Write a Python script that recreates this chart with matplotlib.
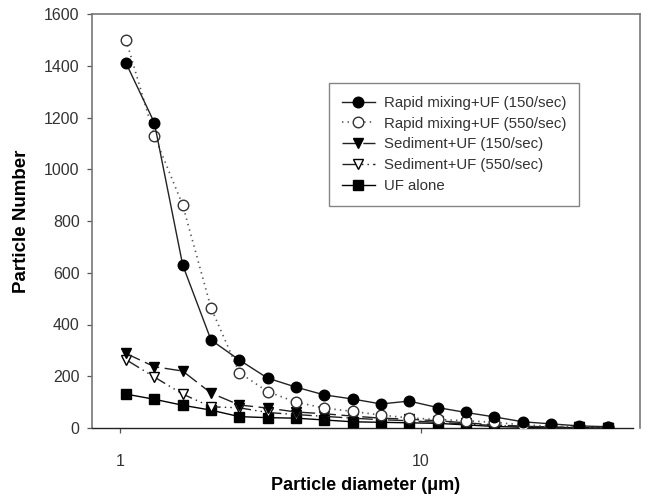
import numpy as np
import matplotlib
matplotlib.use("Agg")
import matplotlib.pyplot as plt

plt.rcParams['font.family'] = ['Liberation Sans', 'DejaVu Sans']
plt.rcParams['lines.scale_dashes'] = False

# particle size channels (um)
diameter = [1.047, 1.30, 1.615, 2.006, 2.49, 3.09, 3.84, 4.77, 5.93, 7.36,
            9.14, 11.35, 14.1, 17.5, 21.8, 27.0, 33.6, 41.7]

rapid_150 = [1410, 1180, 630, 340, 263, 193, 158, 128, 112, 93,
             104, 79, 60, 43, 24, 16, 8, 5]
rapid_550 = [1500, 1130, 862, 464, 214, 141, 100, 77, 64, 50,
             39, 33, 28, 22, 12, 7, 4, 3]
sed_150 = [288, 237, 220, 135, 89, 77, 62, 55, 46, 38,
           34, 28, 20, 12, 7, 4, 2, 1]
sed_550 = [264, 197, 131, 82, 78, 60, 52, 45, 38, 32,
           28, 22, 15, 10, 5, 3, 2, 1]
uf_alone = [131, 111, 88, 69, 44, 40, 38, 31, 24, 22,
            20, 18, 12, 6, 3, 2, 1, 1]

labels = ["Rapid mixing+UF (150/sec)", "Rapid mixing+UF (550/sec)",
          "Sediment+UF (150/sec)", "Sediment+UF (550/sec)", "UF alone"]
y_ticks = [0, 200, 400, 600, 800, 1000, 1200, 1400, 1600]
x_ticks = [1, 10]
x_tick_labels = ["1", "10"]

fig = plt.figure(figsize=(6.49, 5.01), dpi=100)
ax = fig.add_axes([92/649, 1-428/501, (640-92)/649, (428-14)/501])

ms = 7.6
lw = 1.0
ax.plot(diameter, uf_alone, color='black', lw=lw, marker='s', ms=6.8,
        mfc='black', mec='black', label=labels[4], zorder=3)
ax.plot(diameter, sed_550, color='#222222', lw=lw, ls=(0, (11, 3, 1, 3, 1, 3)),
        marker='v', ms=ms, mfc='white', mec='black', mew=1.0, label=labels[3], zorder=4)
ax.plot(diameter, sed_150, color='#222222', lw=lw, ls=(0, (11, 4)),
        marker='v', ms=ms, mfc='black', mec='black', label=labels[2], zorder=5)
ax.plot(diameter, rapid_550, color='#555555', lw=1.2, ls=(0, (1, 3)),
        marker='o', ms=ms, mfc='white', mec='#333333', mew=1.0, label=labels[1], zorder=6)
ax.plot(diameter, rapid_150, color='#222222', lw=lw,
        marker='o', ms=ms, mfc='black', mec='black', label=labels[0], zorder=7)

ax.set_xscale('log')
ax.set_xlim(0.807, 53.4)
ax.set_ylim(0, 1600)
ax.set_yticks(y_ticks)
ax.set_xticks(x_ticks)
ax.set_xticklabels(x_tick_labels)
ax.xaxis.set_minor_locator(matplotlib.ticker.NullLocator())

for s in ['left', 'top', 'right']:
    ax.spines[s].set_color('#777777')
    ax.spines[s].set_linewidth(1.2)
ax.spines['bottom'].set_color('#222222')
ax.spines['bottom'].set_linewidth(1.0)
ax.spines['bottom'].set_bounds(0.807, 50.6)

ax.tick_params(axis='y', direction='out', length=3.5, width=0.9, color='#555555',
               labelsize=11.5, labelcolor='#333333', pad=5.5)
ax.tick_params(axis='x', direction='out', length=3.5, width=0.9, color='#555555',
               labelsize=11.5, labelcolor='#333333', pad=15)

ax.set_ylabel("Particle Number", fontsize=13.5, fontweight='bold', labelpad=10)
ax.set_xlabel("Particle diameter (\u03bcm)", fontsize=13, fontweight='bold', labelpad=6)

handles, labs = ax.get_legend_handles_labels()
order = [4, 3, 2, 1, 0]
leg = ax.legend([handles[i] for i in order], [labs[i] for i in order],
                loc='upper left', bbox_to_anchor=((329-92)/548, 1-(83-14)/414),
                borderaxespad=0,
                fontsize=10.8, frameon=True, fancybox=False, handlelength=2.2,
                handletextpad=0.6, borderpad=0.85, labelspacing=0.45,
                edgecolor='#666666', labelcolor='#333333')
leg.get_frame().set_linewidth(1.0)

fig.savefig("out.png", dpi=100)
